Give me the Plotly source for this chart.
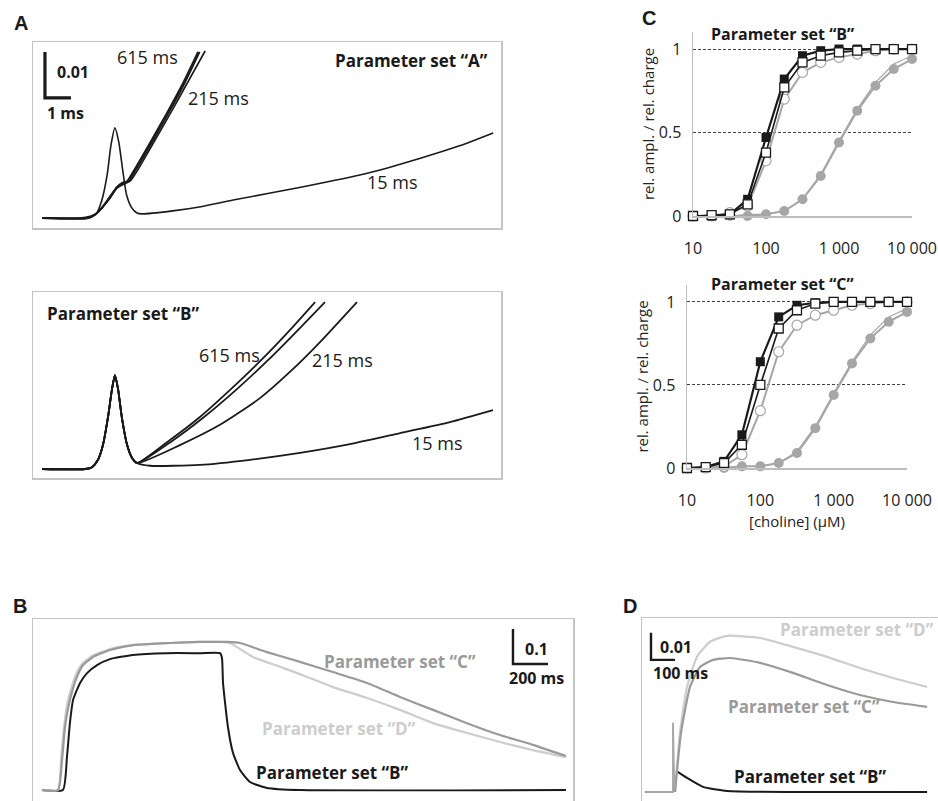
import plotly.graph_objects as go

# ---------------- Panel A (top) : parameter set "A" ----------------
# time in ms, response in arbitrary units
a1_t_15 = [0.35, 1.8, 2.2, 2.45, 2.65, 2.85, 3.0, 3.15, 3.3, 3.45, 3.6, 3.8, 4.0, 4.2, 5.3, 6.4, 7.7, 10.3, 12.9, 14.9, 16.4, 17.7]
a1_y_15 = [0, 0, 0.0004, 0.0011, 0.0039, 0.0093, 0.0159, 0.0196, 0.0165, 0.0104, 0.005, 0.0022, 0.0011, 0.0009, 0.0015, 0.0024, 0.0039, 0.0067, 0.0098, 0.013, 0.0157, 0.0185]
a1_t_615 = [0.35, 2.12, 2.38, 2.65, 2.96, 3.23, 3.42, 3.62, 3.85, 4.5, 5.15, 5.77, 6.35]
a1_y_615 = [0, 0, 0.0007, 0.0022, 0.0046, 0.0067, 0.0076, 0.008, 0.01, 0.0163, 0.0228, 0.0293, 0.0361]
a1_t_415 = [0.35, 2.12, 2.38, 2.65, 2.96, 3.23, 3.44, 3.66, 3.9, 4.56, 5.21, 5.83, 6.41]
a1_y_415 = [0, 0, 0.0007, 0.0022, 0.0046, 0.0067, 0.0076, 0.008, 0.01, 0.0163, 0.0228, 0.0293, 0.0361]
a1_t_215 = [0.35, 2.12, 2.38, 2.65, 2.96, 3.23, 3.5, 3.73, 4.0, 4.65, 5.31, 5.96, 6.62]
a1_y_215 = [0, 0, 0.0007, 0.0022, 0.0043, 0.0065, 0.0074, 0.008, 0.0102, 0.0165, 0.023, 0.0296, 0.0363]

# ---------------- Panel A (bottom) : parameter set "B" ----------------
a2_t_peak = [0.35, 2.0, 2.27, 2.5, 2.69, 2.88, 3.04, 3.15, 3.27, 3.42, 3.62, 3.81, 4.0]
a2_y_peak = [0, 0, 0.0004, 0.002, 0.0052, 0.0111, 0.0174, 0.0204, 0.0174, 0.0111, 0.0052, 0.0024, 0.0013]
a2_t_15 = [4.5, 6.42, 8.35, 10.27, 12.19, 14.12, 16.04, 17.69]
a2_y_15 = [0.0007, 0.0009, 0.002, 0.0035, 0.0054, 0.0078, 0.0102, 0.0128]
a2_t_215 = [5.65, 7.19, 8.73, 9.88, 11.04, 12.46]
a2_y_215 = [0.0052, 0.0096, 0.0154, 0.0211, 0.0276, 0.0363]
a2_t_415 = [5.35, 6.58, 7.81, 9.12, 10.19, 11.23]
a2_y_415 = [0.0061, 0.0113, 0.0172, 0.0241, 0.0302, 0.0363]
a2_t_615 = [5.27, 6.42, 7.58, 8.85, 9.88, 10.85]
a2_y_615 = [0.0063, 0.0113, 0.0172, 0.0241, 0.0302, 0.0363]

# ---------------- Panel C : concentration-response ----------------
conc = [10, 18, 32, 56, 100, 178, 316, 562, 1000, 1778, 3162, 5623, 10000]
conc_hi = [32, 56, 100, 178, 316, 562, 1000, 1778, 3162, 5623, 10000]
cB_sq_filled = [0, 0, 0.01, 0.1, 0.47, 0.82, 0.96, 0.99, 1.0, 1.0, 1.0, 1.0, 1.0]
cB_sq_open = [0, 0.005, 0.01, 0.07, 0.38, 0.77, 0.92, 0.96, 0.98, 0.99, 1.0, 1.0, 1.0]
cB_circ_open = [0, 0, 0.02, 0.06, 0.33, 0.70, 0.86, 0.92, 0.95, 0.97, 0.99, 1.0, 1.0]
cB_circ_filled = [0, 0.0, 0.01, 0.03, 0.10, 0.24, 0.44, 0.63, 0.78, 0.88, 0.94]
cB_circ_line2 = [0, 0.01, 0.01, 0.03, 0.10, 0.25, 0.45, 0.64, 0.80, 0.91, 0.96]
cC_sq_filled = [0, 0.005, 0.04, 0.20, 0.64, 0.91, 0.98, 0.995, 1.0, 1.0, 1.0, 1.0, 1.0]
cC_sq_open = [0, 0.005, 0.03, 0.14, 0.50, 0.84, 0.95, 0.99, 1.0, 1.0, 1.0, 1.0, 1.0]
cC_circ_open = [0, 0, 0.01, 0.08, 0.345, 0.70, 0.86, 0.92, 0.95, 0.98, 0.99, 1.0, 1.0]
cC_circ_filled = [0, 0.01, 0.01, 0.03, 0.09, 0.24, 0.44, 0.63, 0.78, 0.88, 0.94]
cC_circ_line2 = [0, 0.01, 0.01, 0.03, 0.10, 0.25, 0.45, 0.64, 0.80, 0.91, 0.96]
c_xticks = [10, 100, 1000, 10000]
c_xticklabels = ["10", "100", "1 000", "10 000"]
c_yticks = [0, 0.5, 1]
c_yticklabels = ["0", "0.5", "1"]

# ---------------- Panel B : long pulse ----------------
b_t_C = [51, 143, 166, 183, 211, 251, 286, 343, 440, 571, 783, 954, 1109, 1183, 1337, 1526, 1714, 1909, 2097, 2286, 2480, 2669, 2857, 3046]
b_y_C = [0, 0, 0.086, 0.18, 0.257, 0.323, 0.357, 0.38, 0.4, 0.414, 0.42, 0.423, 0.423, 0.42, 0.394, 0.366, 0.337, 0.306, 0.266, 0.229, 0.191, 0.157, 0.129, 0.097]
b_t_D = [51, 143, 160, 177, 200, 240, 280, 337, 440, 571, 783, 954, 1069, 1126, 1257, 1429, 1583, 1714, 1909, 2097, 2286, 2480, 2669, 2857, 3046]
b_y_D = [0, 0, 0.086, 0.18, 0.257, 0.323, 0.36, 0.383, 0.403, 0.414, 0.42, 0.423, 0.423, 0.42, 0.38, 0.349, 0.32, 0.294, 0.263, 0.229, 0.191, 0.163, 0.137, 0.114, 0.094]
b_t_B = [51, 171, 194, 211, 229, 269, 309, 366, 440, 571, 766, 954, 1069, 1080, 1086, 1114, 1143, 1183, 1240, 1337, 1526, 3046]
b_y_B = [0, 0, 0.094, 0.191, 0.257, 0.306, 0.334, 0.357, 0.374, 0.386, 0.391, 0.391, 0.391, 0.377, 0.306, 0.18, 0.106, 0.057, 0.023, 0.006, 0, 0]

# ---------------- Panel D : short pulse ----------------
d_t_spike = [12, 129, 129, 135]
d_y_spike = [0, 0, 0.0256, 0]
d_t_D = [137.5, 158, 187.5, 229, 283, 354, 492, 629, 771, 908, 1046, 1187.5]
d_y_D = [0, 0.0219, 0.0389, 0.05, 0.0556, 0.0578, 0.057, 0.0537, 0.05, 0.0459, 0.0422, 0.0389]
d_t_C = [137.5, 162.5, 200, 242, 296, 367, 492, 629, 771, 908, 1046, 1187.5]
d_y_C = [0, 0.0219, 0.0389, 0.0463, 0.0489, 0.0496, 0.0478, 0.0441, 0.0396, 0.0359, 0.0333, 0.0315]
d_t_B = [142, 187.5, 254, 354, 629, 1187.5]
d_y_B = [0.0078, 0.0052, 0.0019, 0.0004, 0, 0]

BLACK = "#1a1a1a"
GRAY_C = "#9a9a9a"
GRAY_D = "#cdcdcd"
GRAY_PTS = "#a6a6a6"
BOX = "#c4c4c4"
FONT = "Open Sans"

W, H = 938, 801
def px(x):
    return x / W
def py(y):
    return 1 - y / H

fig = go.Figure()

def line(x, y, ax, color=BLACK, width=1.8, shape="spline", smooth=0.6):
    fig.add_trace(go.Scatter(x=x, y=y, mode="lines", xaxis="x" + ax, yaxis="y" + ax,
                             line=dict(color=color, width=width, shape=shape,
                                       smoothing=smooth if shape == "spline" else None),
                             hoverinfo="skip", showlegend=False))

# Panel A top (axis "")
line(a1_t_15, a1_y_15, "", width=1.6)
line(a1_t_215, a1_y_215, "", width=1.7)
line(a1_t_415, a1_y_415, "", width=1.8)
line(a1_t_615, a1_y_615, "", width=2.0)
# Panel A bottom (axis "2")
line(a2_t_peak + a2_t_15, a2_y_peak + a2_y_15, "2", width=1.8)
line(a2_t_peak + a2_t_215, a2_y_peak + a2_y_215, "2", width=1.8)
line(a2_t_peak + a2_t_415, a2_y_peak + a2_y_415, "2", width=1.8)
line(a2_t_peak + a2_t_615, a2_y_peak + a2_y_615, "2", width=1.8)

# scale bars (data units)
def scalebar(ax, x0, y0, dx, dy, width):
    fig.add_trace(go.Scatter(x=[x0, x0, x0 + dx], y=[y0 + dy, y0, y0], mode="lines",
                             xaxis="x" + ax, yaxis="y" + ax,
                             line=dict(color=BLACK, width=width), hoverinfo="skip", showlegend=False))

scalebar("", 0.46, 0.0261, 1.0, 0.01, 3.2)

# Panel C
def cpanel(ax, sqf, sqo, co, cf, cl2):
    fig.add_trace(go.Scatter(x=conc_hi, y=cl2, mode="lines", xaxis="x" + ax, yaxis="y" + ax,
                             line=dict(color=GRAY_PTS, width=1.2), hoverinfo="skip", showlegend=False,
                             cliponaxis=False))
    fig.add_trace(go.Scatter(x=conc_hi, y=cf, mode="lines+markers", xaxis="x" + ax, yaxis="y" + ax,
                             line=dict(color=GRAY_PTS, width=2),
                             marker=dict(symbol="circle", size=10, color=GRAY_PTS, line=dict(width=0)),
                             hoverinfo="skip", showlegend=False, cliponaxis=False))
    fig.add_trace(go.Scatter(x=conc, y=co, mode="lines+markers", xaxis="x" + ax, yaxis="y" + ax,
                             line=dict(color=GRAY_PTS, width=2),
                             marker=dict(symbol="circle", size=10, color="white", line=dict(width=1.2, color=GRAY_PTS)),
                             hoverinfo="skip", showlegend=False, cliponaxis=False))
    fig.add_trace(go.Scatter(x=conc, y=sqf, mode="lines+markers", xaxis="x" + ax, yaxis="y" + ax,
                             line=dict(color=BLACK, width=2.2),
                             marker=dict(symbol="square", size=9, color=BLACK, line=dict(width=0)),
                             hoverinfo="skip", showlegend=False, cliponaxis=False))
    fig.add_trace(go.Scatter(x=conc, y=sqo, mode="lines+markers", xaxis="x" + ax, yaxis="y" + ax,
                             line=dict(color=BLACK, width=1.6),
                             marker=dict(symbol="square", size=9, color="white", line=dict(width=1.3, color=BLACK)),
                             hoverinfo="skip", showlegend=False, cliponaxis=False))

cpanel("3", cB_sq_filled, cB_sq_open, cB_circ_open, cB_circ_filled, cB_circ_line2)
cpanel("4", cC_sq_filled, cC_sq_open, cC_circ_open, cC_circ_filled, cC_circ_line2)

# Panel B (axis "5")
line(b_t_B, b_y_B, "5", color=BLACK, width=2.0, smooth=0.5)
line(b_t_D, b_y_D, "5", color=GRAY_D, width=2.2, smooth=0.5)
line(b_t_C, b_y_C, "5", color=GRAY_C, width=2.2, smooth=0.5)
scalebar("5", 2743, 0.36, 200, 0.1, 2.4)

# Panel D (axis "6")
line(d_t_B, d_y_B, "6", color=BLACK, width=2.0, smooth=0.5)
line(d_t_spike, d_y_spike, "6", color=GRAY_PTS, width=1.8, shape="linear")
line(d_t_D, d_y_D, "6", color=GRAY_D, width=2.2, smooth=0.5)
line(d_t_C, d_y_C, "6", color=GRAY_C, width=2.2, smooth=0.5)
scalebar("6", 37.5, 0.0489, 100, 0.01, 2.4)

box = dict(showline=True, mirror=True, linecolor=BOX, linewidth=1.5, showticklabels=False,
           ticks="", showgrid=False, zeroline=False, automargin=False)
topline = dict(side="top", showline=True, mirror=False, linecolor=BOX, linewidth=1.5,
               showticklabels=False, ticks="", showgrid=False, zeroline=False, automargin=False)

fig.update_layout(
    template="none",
    width=W, height=H, margin=dict(l=0, r=0, t=0, b=0, autoexpand=False),
    paper_bgcolor="white", plot_bgcolor="rgba(0,0,0,0)", showlegend=False,
    font=dict(family=FONT, color=BLACK),
    xaxis=dict(domain=[px(33), px(501)], range=[0, 18], anchor="y", **box),
    yaxis=dict(domain=[py(228), py(42)], range=[-0.00217, 0.03826], anchor="x", **box),
    xaxis2=dict(domain=[px(33), px(501)], range=[0, 18], anchor="y2", **box),
    yaxis2=dict(domain=[py(478), py(292)], range=[-0.00196, 0.03848], anchor="x2", **box),
    xaxis5=dict(domain=[px(33), px(573)], range=[0, 3086], anchor="y5", **topline),
    yaxis5=dict(domain=[0, py(619)], range=[-0.0314, 0.4886], anchor="x5", **box),
    xaxis6=dict(domain=[px(642), 1], range=[0, 1233], anchor="y6", **topline),
    yaxis6=dict(domain=[0, py(618)], range=[-0.00333, 0.0644], anchor="x6", **box),
)

caxis_x = dict(type="log", range=[1, 4], tickvals=c_xticks, ticktext=c_xticklabels,
               showline=True, linecolor="#bdbdbd", linewidth=1.5, ticks="", showgrid=False,
               zeroline=False, tickfont=dict(size=16, color="#222"), ticklabelstandoff=17,
               automargin=False)
caxis_y = dict(range=[0, 1.102], tickvals=c_yticks, ticktext=c_yticklabels,
               showline=True, linecolor="#bdbdbd", linewidth=1.5, ticks="", showgrid=True,
               gridcolor="#444", gridwidth=1, griddash="3px,2px", zeroline=False,
               tickfont=dict(size=16, color="#222"), ticklabelstandoff=7, automargin=False,
               title=dict(text="rel. ampl. / rel. charge", font=dict(size=15, color="#222"), standoff=0))
fig.update_layout(
    xaxis3=dict(domain=[px(693), px(912)], anchor="y3", **caxis_x),
    yaxis3=dict(domain=[py(216), py(32)], anchor="x3", **caxis_y),
    xaxis4=dict(domain=[px(687), px(907)], anchor="y4",
                title=dict(text="[choline] (\u03bcM)", font=dict(size=15, color="#222"), standoff=0),
                **caxis_x),
    yaxis4=dict(domain=[py(468), py(285)], anchor="x4", **caxis_y),
)

ann = []
def text(t, x, y, ax, size=18, bold=False, color=BLACK, xanchor="center"):
    ann.append(dict(text=("<b>%s</b>" % t) if bold else t, x=x, y=y, xref="x" + ax, yref="y" + ax,
                    showarrow=False, xanchor=xanchor, yanchor="middle",
                    font=dict(family=FONT, size=size, color=color)))

# Panel A top texts
text("615 ms", 4.42, 0.035, "")
text("215 ms", 7.15, 0.0261, "")
text("15 ms", 13.81, 0.0078, "")
text("Parameter set \u201cA\u201d", 17.58, 0.0343, "", size=17, bold=True, xanchor="right")
text("0.01", 0.85, 0.0317, "", size=16, bold=True, xanchor="left")
text("1 ms", 0.46, 0.0228, "", size=16, bold=True, xanchor="left")
# Panel A bottom texts
text("615 ms", 7.54, 0.0248, "2")
text("215 ms", 11.92, 0.0237, "2")
text("15 ms", 15.54, 0.0057, "2")
text("Parameter set \u201cB\u201d", 0.46, 0.0339, "2", size=17, bold=True, xanchor="left")
# Panel B texts
text("Parameter set \u201cC\u201d", 2097, 0.366, "5", size=17, bold=True, color=GRAY_C)
text("Parameter set \u201cD\u201d", 1749, 0.177, "5", size=17, bold=True, color=GRAY_D)
text("Parameter set \u201cB\u201d", 1714, 0.051, "5", size=17, bold=True, color=BLACK)
text("0.1", 2800, 0.403, "5", size=16, bold=True, xanchor="left")
text("200 ms", 2880, 0.32, "5", size=16, bold=True)
# Panel D texts
text("Parameter set \u201cD\u201d", 567, 0.06, "6", size=17, bold=True, color=GRAY_D, xanchor="left")
text("Parameter set \u201cC\u201d", 675, 0.0315, "6", size=17, bold=True, color=GRAY_C)
text("Parameter set \u201cB\u201d", 700, 0.0056, "6", size=17, bold=True, color=BLACK)
text("0.01", 67, 0.0537, "6", size=16, bold=True, xanchor="left")
text("100 ms", 37.5, 0.0441, "6", size=16, bold=True, xanchor="left")

# Panel C titles
for t, yy in [("Parameter set \u201cB\u201d", 34), ("Parameter set \u201cC\u201d", 284)]:
    ann.append(dict(text="<b>%s</b>" % t, x=px(782), y=py(yy), xref="paper", yref="paper",
                    showarrow=False, xanchor="center", yanchor="middle",
                    font=dict(family=FONT, size=16, color=BLACK)))

# Panel letters
for t, x, y in [("A", 21, 23), ("B", 20, 606), ("C", 649, 18), ("D", 630, 606)]:
    ann.append(dict(text="<b>%s</b>" % t, x=px(x), y=py(y), xref="paper", yref="paper",
                    showarrow=False, xanchor="center", yanchor="middle",
                    font=dict(family="Liberation Sans, Arial", size=20, color=BLACK)))

fig.update_layout(annotations=ann)
fig.write_html("out.html", config={"displayModeBar": False, "staticPlot": True},
               post_script="document.body.style.margin='0';document.body.style.overflow='hidden';")
